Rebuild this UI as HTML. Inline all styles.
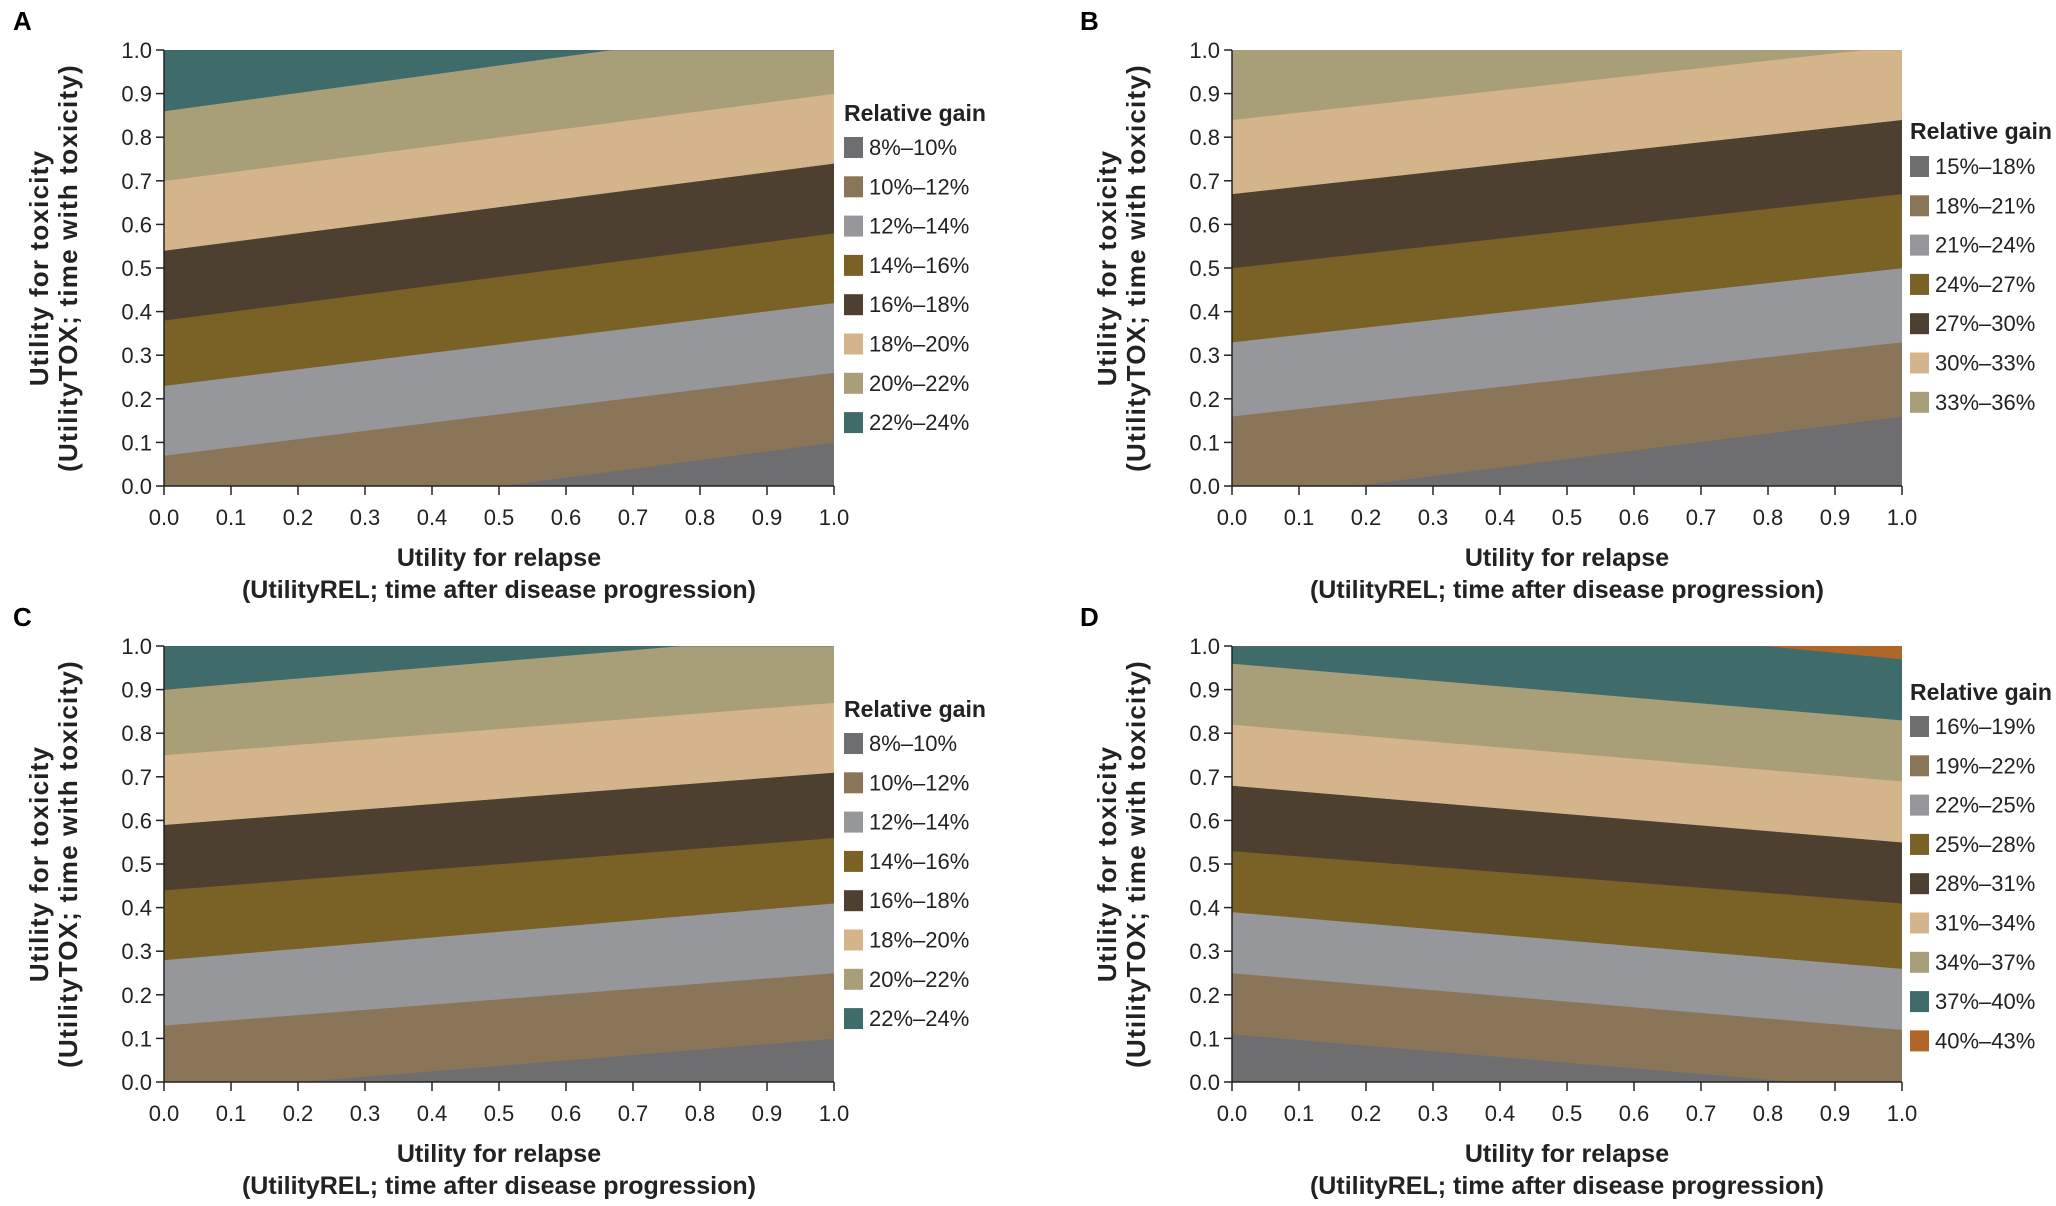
<!DOCTYPE html>
<html><head><meta charset="utf-8"><style>
html,body{margin:0;padding:0;background:#fff;width:2056px;height:1206px;overflow:hidden;}
svg{display:block;}
.n{font-family:"Liberation Sans Narrow","Liberation Sans",sans-serif;}
.w{font-family:"Liberation Sans",sans-serif;}
</style></head><body>
<svg id="fig" width="2056" height="1206" viewBox="0 0 2056 1206" xmlns="http://www.w3.org/2000/svg"></svg>
<script>
// Boundary lines between bands: value at x=0 and x=1
const boundsA0 = [-0.10, 0.07, 0.23, 0.38, 0.54, 0.70, 0.86];
const boundsA1 = [0.10, 0.26, 0.42, 0.58, 0.74, 0.90, 1.07];
const labelsA = ["8%–10%","10%–12%","12%–14%","14%–16%","16%–18%","18%–20%","20%–22%","22%–24%"];
const colorsA = ["#6e6e70","#8a7558","#96979b","#7a6226","#4e4030","#d4b48a","#a89e78","#3f6b6a"];

const boundsB0 = [-0.035, 0.16, 0.33, 0.50, 0.67, 0.84];
const boundsB1 = [0.16, 0.33, 0.50, 0.67, 0.84, 1.01];
const labelsB = ["15%–18%","18%–21%","21%–24%","24%–27%","27%–30%","30%–33%","33%–36%"];
const colorsB = ["#6e6e70","#8a7558","#96979b","#7a6226","#4e4030","#d4b48a","#a89e78"];

const boundsC0 = [-0.025, 0.13, 0.28, 0.44, 0.59, 0.75, 0.90];
const boundsC1 = [0.10, 0.25, 0.41, 0.56, 0.71, 0.87, 1.03];
const labelsC = labelsA;
const colorsC = colorsA;

const boundsD0 = [0.11, 0.25, 0.39, 0.53, 0.68, 0.82, 0.96, 1.12];
const boundsD1 = [-0.02, 0.12, 0.26, 0.41, 0.55, 0.69, 0.83, 0.97];
const labelsD = ["16%–19%","19%–22%","22%–25%","25%–28%","28%–31%","31%–34%","34%–37%","37%–40%","40%–43%"];
const colorsD = ["#6e6e70","#8a7558","#96979b","#7a6226","#4e4030","#d4b48a","#a89e78","#3f6b6a","#b06628"];

const ticks = ["0.0","0.1","0.2","0.3","0.4","0.5","0.6","0.7","0.8","0.9","1.0"];

const NS = "http://www.w3.org/2000/svg";
const svg = document.getElementById('fig');
function mk(tag, attrs, parent){ const e=document.createElementNS(NS,tag); for(const k in attrs) e.setAttribute(k,attrs[k]); (parent||svg).appendChild(e); return e; }

const panels = [
  {id:"a", letter:"A", lx:13, ly:30, px:164, py:50, b0:boundsA0, b1:boundsA1, labels:labelsA, colors:colorsA, legX:844, legTitleY:121, legY:147},
  {id:"b", letter:"B", lx:1080, ly:30, px:1232, py:50, b0:boundsB0, b1:boundsB1, labels:labelsB, colors:colorsB, legX:1910, legTitleY:139, legY:166},
  {id:"c", letter:"C", lx:13, ly:626, px:164, py:646, b0:boundsC0, b1:boundsC1, labels:labelsC, colors:colorsC, legX:844, legTitleY:717, legY:743},
  {id:"d", letter:"D", lx:1080, ly:626, px:1232, py:646, b0:boundsD0, b1:boundsD1, labels:labelsD, colors:colorsD, legX:1910, legTitleY:700, legY:726}
];
const W=670, H=436;

panels.forEach(p=>{
  const g = mk('g',{});
  
  
  const xs = v => p.px + v*W;
  const ys = v => p.py + H - v*H;
  const t = mk('text',{x:p.lx,y:p.ly,'font-size':26,'font-weight':'bold',class:'w'},g);
  t.textContent=p.letter;
  
  
  const cp = mk('clipPath',{id:'clip'+p.id},g);
  mk('rect',{x:p.px,y:p.py,width:W,height:H},cp);
  const bg = mk('g',{'clip-path':'url(#clip'+p.id+')'},g);
  const n = p.colors.length;
  for(let i=0;i<n;i++){
    const lo0 = i===0 ? 0 : p.b0[i-1], lo1 = i===0 ? 0 : p.b1[i-1];
    const up0 = i===n-1 ? 1 : p.b0[i], up1 = i===n-1 ? 1 : p.b1[i];
    const poly = mk('polygon',{points:`${xs(0)},${ys(lo0)} ${xs(1)},${ys(lo1)} ${xs(1)},${ys(up1)} ${xs(0)},${ys(up0)}`,fill:p.colors[i],stroke:p.colors[i],'stroke-width':0.5},bg);
    
    
  }
  const ax = mk('g',{stroke:'#222','stroke-width':1.5},g);
  
  
  mk('line',{x1:p.px,y1:p.py,x2:p.px,y2:p.py+H},ax);
  mk('line',{x1:p.px,y1:p.py+H,x2:p.px+W,y2:p.py+H},ax);
  ticks.forEach((tl,k)=>{
    const v=k/10;
    mk('line',{x1:xs(v),y1:p.py+H,x2:xs(v),y2:p.py+H+9},ax);
    mk('line',{x1:p.px-8,y1:ys(v),x2:p.px,y2:ys(v)},ax);
    const tx = mk('text',{x:xs(v),y:p.py+H+39,'font-size':22,'text-anchor':'middle',fill:'#222',class:'n'},g);
    tx.textContent=tl;
    
    
    const ty = mk('text',{x:p.px-12,y:ys(v)+8,'font-size':22,'text-anchor':'end',fill:'#222',class:'n'},g);
    ty.textContent=tl;
    
    
  });
  const xt1 = mk('text',{x:p.px+W/2,y:p.py+H+80,'font-size':25,'font-weight':'bold','text-anchor':'middle',fill:'#222',class:'n'},g);
  xt1.textContent='Utility for relapse';
  
  
  const xt2 = mk('text',{x:p.px+W/2,y:p.py+H+112,'font-size':25,'font-weight':'bold','text-anchor':'middle',fill:'#222',class:'n'},g);
  xt2.textContent='(UtilityREL; time after disease progression)';
  
  
  const cy = p.py+H/2;
  const yt1 = mk('text',{x:0,y:0,'font-size':26,'font-weight':'bold','letter-spacing':1.2,'text-anchor':'middle',fill:'#222',class:'w',transform:`translate(${p.px-116},${cy}) rotate(-90)`},g);
  yt1.textContent='Utility for toxicity';
  
  
  const yt2 = mk('text',{x:0,y:0,'font-size':26,'font-weight':'bold','letter-spacing':1.2,'text-anchor':'middle',fill:'#222',class:'w',transform:`translate(${p.px-87},${cy}) rotate(-90)`},g);
  yt2.textContent='(UtilityTOX; time with toxicity)';
  
  
  const lg = mk('g',{},g);
  
  
  const lt = mk('text',{x:p.legX,y:p.legTitleY,'font-size':23,'font-weight':'bold',fill:'#222',class:'n'},lg);
  lt.textContent='Relative gain';
  
  
  p.labels.forEach((lab,i)=>{
    const y = p.legY + i*39.3;
    const e = mk('g',{},lg);
    
    
    mk('rect',{x:p.legX,y:y-10,width:19,height:21,fill:p.colors[i]},e);
    const tx = mk('text',{x:p.legX+25,y:y+8,'font-size':22,fill:'#222',class:'n'},e);
    tx.textContent=lab;
  });
});
</script>
</body></html>
